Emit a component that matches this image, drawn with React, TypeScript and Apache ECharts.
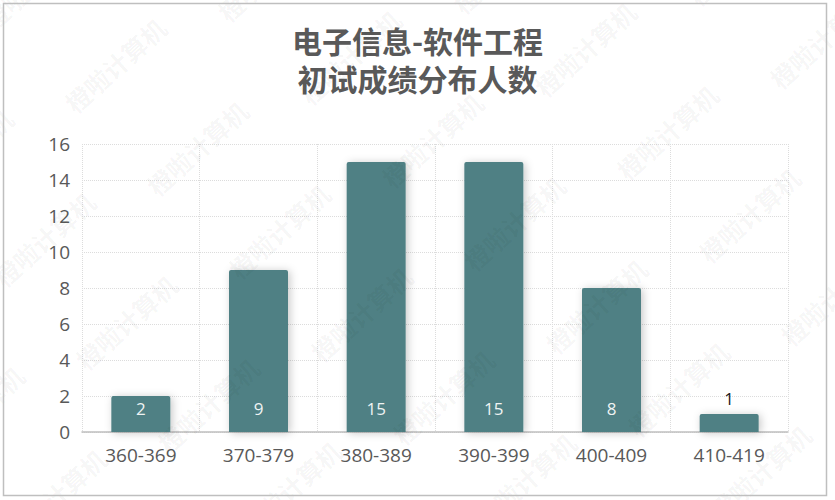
import React, { useEffect, useRef } from "react";
import * as echarts from "echarts";

const categories = ["360-369", "370-379", "380-389", "390-399", "400-409", "410-419"];
const counts = [2, 9, 15, 15, 8, 1];
const yTicks = { min: 0, max: 16, interval: 2 };
const titleLines = ["电子信息-软件工程", "初试成绩分布人数"];
const watermarkText = "橙啦计算机";

export default function App() {
  const ref = useRef<HTMLDivElement>(null);
  useEffect(() => {
    document.body.style.margin = "0";
    const chart = echarts.init(ref.current!, null, { renderer: "svg" });

    // decorative tiled watermark
    const wm: any[] = [];
    const base = [197, 148];
    const u = [235, -8];
    const v = [82, 83];
    for (let i = -4; i <= 5; i++) {
      for (let j = -4; j <= 6; j++) {
        const cx = base[0] + i * u[0] + j * v[0];
        const cy = base[1] + i * u[1] + j * v[1];
        if (cx < -120 || cx > 960 || cy < -120 || cy > 620) continue;
        wm.push({
          type: "text",
          x: cx,
          y: cy,
          rotation: (42 * Math.PI) / 180,
          silent: true,
          z: 100,
          style: {
            text: watermarkText,
            x: 0,
            y: 0,
            align: "center",
            verticalAlign: "middle",
            fontSize: 25,
            fontWeight: "bold",
            fontFamily: "Noto Sans CJK SC",
            fill: "rgba(0,0,0,0.045)",
          },
        });
      }
    }

    const data = counts.map((c, i) =>
      i === counts.length - 1
        ? {
            value: c,
            label: {
              show: true,
              position: "top",
              distance: 7,
              color: "#1a1a1a",
              fontSize: 17,
              fontFamily: "Open Sans",
            },
          }
        : c
    );

    const titleStyle = {
      fontSize: 30,
      fontWeight: "bold",
      fontFamily: "Noto Sans CJK SC",
      color: "#595959",
      lineHeight: 30,
    };

    chart.setOption({
      animation: false,
      backgroundColor: "#ffffff",
      title: [
        { text: titleLines[0], left: "center", top: 25, padding: 0, textStyle: titleStyle },
        { text: titleLines[1], left: "center", top: 63, padding: 0, textStyle: titleStyle },
      ],
      grid: { left: 82, right: 47, top: 144, bottom: 68 },
      xAxis: {
        type: "category",
        data: categories,
        axisLine: { lineStyle: { color: "#bfbfbf", width: 1.5 } },
        axisTick: { show: false },
        axisLabel: { color: "#595959", fontSize: 19, fontFamily: "Open Sans", margin: 13 },
        splitLine: { show: true, lineStyle: { color: "#dcdcdc", type: "dotted", width: 1 } },
      },
      yAxis: {
        type: "value",
        min: yTicks.min,
        max: yTicks.max,
        interval: yTicks.interval,
        axisLine: { show: false },
        axisTick: { show: false },
        axisLabel: { color: "#595959", fontSize: 19, fontFamily: "Open Sans", margin: 12 },
        splitLine: { lineStyle: { color: "#dcdcdc", type: "dotted", width: 1 } },
      },
      series: [
        {
          type: "bar",
          data,
          barWidth: 59,
          itemStyle: {
            color: "#508084",
            borderRadius: [2, 2, 0, 0],
            shadowBlur: 8,
            shadowColor: "rgba(0,0,0,0.22)",
            shadowOffsetX: 2,
            shadowOffsetY: 1,
          },
          label: {
            show: true,
            position: "insideBottom",
            distance: 15,
            color: "#eef3f3",
            fontSize: 17,
            fontFamily: "Open Sans",
          },
        },
      ],
      graphic: [
        {
          type: "rect",
          silent: true,
          shape: { x: 3.5, y: 3.5, width: 823, height: 492 },
          style: { fill: "none", stroke: "#bfbfbf", lineWidth: 1.5 },
          z: 101,
        },
        ...wm,
      ],
    });
    return () => chart.dispose();
  }, []);
  return <div ref={ref} style={{ width: 835, height: 500 }} />;
}
